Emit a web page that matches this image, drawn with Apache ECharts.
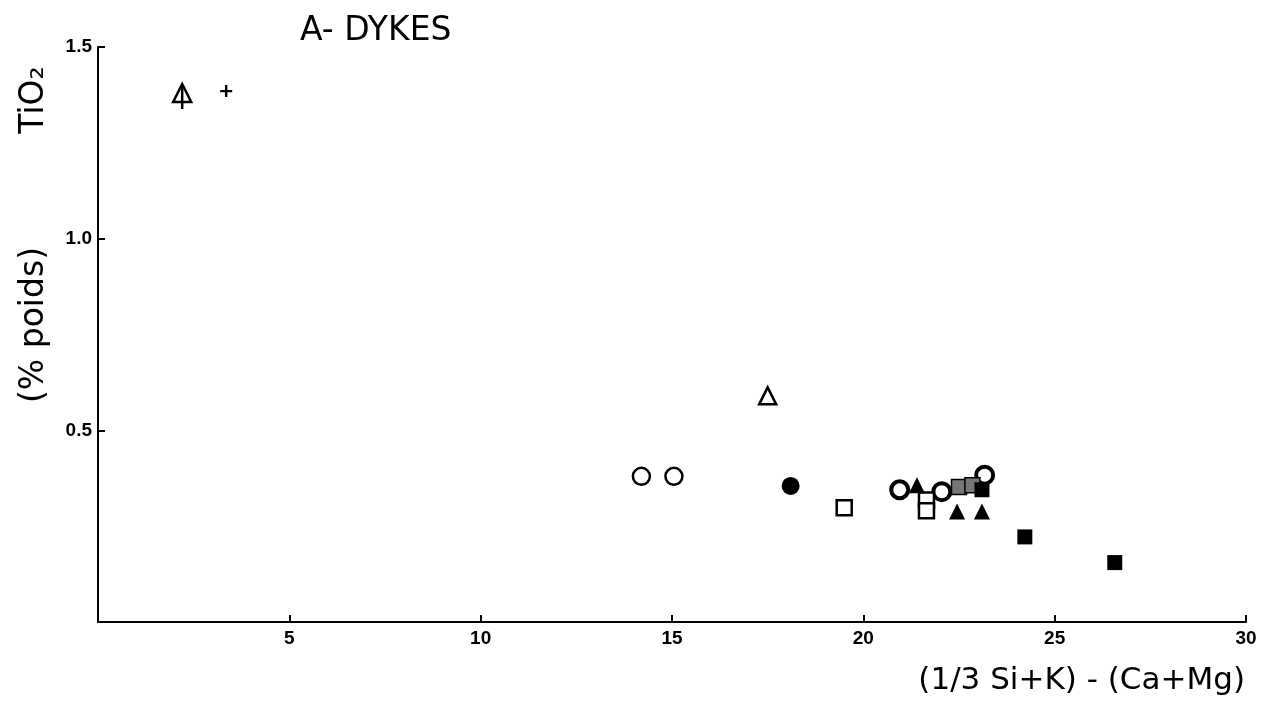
<!DOCTYPE html>
<html>
<head>
<meta charset="utf-8">
<script src="https://cdn.jsdelivr.net/npm/echarts@6/dist/echarts.min.js"></script>
<style>
  html, body { margin: 0; padding: 0; background: #fff; }
  #chart { width: 1263px; height: 703px; }
</style>
</head>
<body>
<div id="chart"></div>
<script>
// points: [x, TiO2]
const stemTriangle = [[2.2, 1.38]];
const plusPts = [[3.35, 1.385]];
const openTriangle = [[17.5, 0.59]];
const openCircle = [[14.2, 0.38], [15.05, 0.38]];
const filledCircle = [[18.1, 0.355]];
const ringCircle = [[20.95, 0.345], [22.05, 0.34], [23.17, 0.383]];
const filledTriangle = [[21.4, 0.357], [22.45, 0.288], [23.1, 0.288]];
const openSquare = [[19.5, 0.298], [21.65, 0.318], [21.65, 0.29]];
const greySquare = [[22.5, 0.352], [22.85, 0.357]];
const filledSquare = [[23.1, 0.345], [24.22, 0.222], [26.57, 0.155]];

const xTicks = [0, 5, 10, 15, 20, 25, 30];
const yTicks = [0, 0.5, 1.0, 1.5];

const chart = echarts.init(document.getElementById('chart'));

const black = '#000';

function pts(name, data, symbol, size, style, extra) {
  return Object.assign({
    name: name,
    type: 'scatter',
    data: data,
    symbol: symbol,
    symbolSize: size,
    itemStyle: Object.assign({ opacity: 1 }, style),
    z: 3,
  }, extra || {});
}

// negative length -> ticks point into the plot
const tick = { show: true, inside: false, length: -7, lineStyle: { color: black, width: 2 } };

const option = {
  animation: false,
  backgroundColor: '#fff',
  grid: { left: 98, right: 17, top: 47, bottom: 81 },
  xAxis: {
    type: 'value',
    min: xTicks[0],
    max: xTicks[xTicks.length - 1],
    interval: 5,
    splitLine: { show: false },
    axisLine: { show: true, lineStyle: { color: black, width: 2 } },
    axisTick: tick,
    axisLabel: {
      margin: 7,
      showMinLabel: false,
      color: black,
      fontSize: 19,
      fontWeight: 'bold',
      fontFamily: 'Liberation Sans',
    },
  },
  yAxis: {
    type: 'value',
    min: yTicks[0],
    max: yTicks[yTicks.length - 1],
    interval: 0.5,
    splitLine: { show: false },
    axisLine: { show: true, lineStyle: { color: black, width: 2 } },
    axisTick: tick,
    axisLabel: {
      margin: 6,
      showMinLabel: false,
      formatter: v => v.toFixed(1),
      color: black,
      fontSize: 19,
      fontWeight: 'bold',
      fontFamily: 'Liberation Sans',
    },
  },
  graphic: [
    {
      type: 'text',
      left: 300,
      top: 15,
      style: { text: 'A- DYKES', fill: black, font: '33px "DejaVu Sans"' },
    },
    {
      type: 'text',
      x: 34,
      y: 325,
      rotation: Math.PI / 2,
      style: {
        text: '(% poids)',
        fill: black,
        font: '33px "DejaVu Sans"',
        align: 'center',
        verticalAlign: 'middle',
      },
    },
    {
      type: 'text',
      x: 34,
      y: 100,
      rotation: Math.PI / 2,
      style: {
        text: 'TiO₂',
        fill: black,
        font: '33px "DejaVu Sans"',
        align: 'center',
        verticalAlign: 'middle',
      },
    },
    {
      type: 'text',
      x: 1245,
      y: 681,
      style: {
        text: '(1/3 Si+K) - (Ca+Mg)',
        fill: black,
        font: '31px "DejaVu Sans"',
        align: 'right',
        verticalAlign: 'middle',
      },
    },
  ],
  series: [
    pts('stemTriangle', stemTriangle, 'triangle', 18, { color: '#fff', borderColor: black, borderWidth: 2.5 }),
    pts('stem', stemTriangle, 'rect', [2.5, 22], { color: black }, { symbolOffset: [0, 5], z: 4 }),
    pts('plus', plusPts, 'path://M4,0H6V4H10V6H6V10H4V6H0V4H4Z', 12, { color: black }),
    pts('openTriangle', openTriangle, 'triangle', 17, { color: '#fff', borderColor: black, borderWidth: 2.5 }),
    pts('openCircle', openCircle, 'circle', 17, { color: '#fff', borderColor: black, borderWidth: 2.5 }),
    pts('filledCircle', filledCircle, 'circle', 18, { color: black }),
    pts('ringCircle', ringCircle, 'circle', 17, { color: '#fff', borderColor: black, borderWidth: 4 }),
    pts('openSquare', openSquare, 'rect', 15, { color: '#fff', borderColor: black, borderWidth: 2.5 }),
    pts('greySquare', greySquare, 'rect', 15, { color: '#777', borderColor: black, borderWidth: 1.5 }),
    pts('filledTriangle', filledTriangle, 'triangle', 16, { color: black }),
    pts('filledSquare', filledSquare, 'rect', 15, { color: black }),
  ],
};

chart.setOption(option);
window.addEventListener('resize', () => chart.resize());
</script>
</body>
</html>
